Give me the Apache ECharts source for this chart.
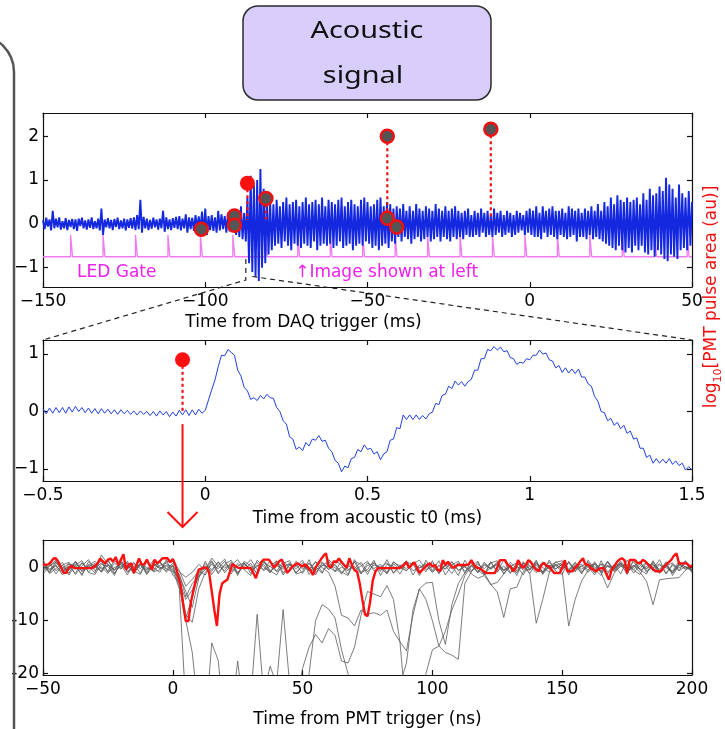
<!DOCTYPE html>
<html><head><meta charset="utf-8">
<script src="https://cdn.jsdelivr.net/npm/echarts@6/dist/echarts.min.js"></script>
<style>html,body{margin:0;padding:0;background:#fff;}#c{width:725px;height:729px;}</style>
</head><body><div id="c"></div>
<script>
// ---------------- DATA ----------------
// Top panel: acoustic signal vs time from DAQ trigger (ms), sampled every 0.5 ms from -150
const daqStart = -150, daqStep = 0.5;
const acousticLong = [
0.08,-0.12,0.14,-0.06,0.1,-0.15,0.3,-0.1,0.12,-0.08,0.15,-0.13,0.06,-0.1,0.13,-0.14,0.09,-0.07,0.11,-0.12,
0.1,-0.16,0.12,-0.05,0.14,-0.1,0.08,-0.13,0.1,-0.09,0.15,-0.12,0.06,-0.1,0.12,-0.15,0.35,-0.25,0.1,-0.08,
0.13,-0.1,0.09,-0.14,0.11,-0.07,0.14,-0.12,0.08,-0.1,0.12,-0.15,0.1,-0.09,0.13,-0.11,0.15,-0.14,0.2,-0.12,
0.55,-0.2,0.16,-0.1,0.12,-0.14,0.09,-0.11,0.14,-0.08,0.1,-0.13,0.12,-0.1,0.3,-0.18,0.15,-0.12,0.1,-0.14,
0.13,-0.09,0.16,-0.12,0.18,-0.15,0.12,-0.1,0.22,-0.2,0.15,-0.12,0.14,-0.16,0.2,-0.1,0.17,-0.13,0.28,-0.22,
0.35,-0.25,0.18,-0.14,0.2,-0.16,0.15,-0.2,0.3,-0.15,0.22,-0.12,0.18,-0.2,0.25,-0.17,0.2,-0.15,0.3,-0.25,
0.3,-0.3,0.4,-0.35,0.25,-0.4,0.6,-0.9,1.1,-1.1,0.9,-1.2,1.0,-1.3,1.25,-1.0,0.8,-0.9,0.6,-0.7,
0.5,-0.6,0.45,-0.5,0.55,-0.45,0.4,-0.55,0.5,-0.4,0.6,-0.5,0.45,-0.6,0.5,-0.45,0.55,-0.5,0.4,-0.55,
0.5,-0.45,0.6,-0.5,0.45,-0.55,0.5,-0.4,0.55,-0.6,0.45,-0.5,0.6,-0.45,0.4,-0.5,0.55,-0.45,0.5,-0.55,
0.45,-0.5,0.55,-0.4,0.6,-0.55,0.4,-0.5,0.5,-0.45,0.55,-0.6,0.45,-0.5,0.4,-0.45,0.55,-0.5,0.6,-0.4,
0.5,-0.45,0.4,-0.55,0.45,-0.5,0.55,-0.6,0.6,-0.5,0.4,-0.45,0.5,-0.55,0.45,-0.4,0.35,-0.45,0.4,-0.3,
0.35,-0.4,0.45,-0.3,0.3,-0.35,0.4,-0.45,0.3,-0.35,0.45,-0.3,0.35,-0.4,0.3,-0.35,0.4,-0.3,0.35,-0.4,
0.3,-0.35,0.45,-0.3,0.35,-0.4,0.3,-0.3,0.4,-0.35,0.3,-0.4,0.35,-0.3,0.4,-0.35,0.3,-0.3,0.25,-0.35,
0.3,-0.25,0.35,-0.3,0.2,-0.3,0.3,-0.25,0.25,-0.3,0.35,-0.2,0.25,-0.3,0.3,-0.25,0.2,-0.3,0.35,-0.25,
0.25,-0.2,0.3,-0.3,0.2,-0.25,0.3,-0.2,0.25,-0.3,0.2,-0.25,0.3,-0.2,0.25,-0.15,0.2,-0.25,0.3,-0.2,
0.35,-0.25,0.3,-0.3,0.4,-0.3,0.25,-0.35,0.4,-0.2,0.3,-0.3,0.35,-0.25,0.4,-0.3,0.3,-0.35,0.3,-0.25,
0.35,-0.3,0.25,-0.35,0.4,-0.3,0.35,-0.25,0.3,-0.4,0.35,-0.3,0.25,-0.3,0.35,-0.35,0.3,-0.25,0.4,-0.35,
0.3,-0.3,0.45,-0.35,0.3,-0.4,0.5,-0.45,0.4,-0.5,0.6,-0.55,0.45,-0.6,0.65,-0.5,0.55,-0.6,0.5,-0.65,
0.6,-0.55,0.5,-0.65,0.55,-0.5,0.6,-0.6,0.45,-0.5,0.7,-0.65,0.55,-0.7,0.8,-0.6,0.65,-0.75,0.7,-0.6,
0.85,-0.7,0.75,-0.8,1.05,-0.85,0.9,-0.7,0.8,-0.75,0.6,-0.8,0.9,-0.6,0.7,-0.55,0.6,-0.6,0.75,-0.5,
0.5];

// LED gate pulses (ms), level and width
const ledPulseStarts = [-141.5,-131.5,-121.5,-111.5,-101.5,-91.5,-81.5,-71.5,-61.5,-51.5,-41.5,-31.5,-21.5,-11.5,-1.5,8.5,18.5,28.5,38.5,48.5];
const ledLow = -0.75, ledHigh = -0.25, ledWidth = 0.6;

// PMT pulse markers (log10 pulse area), grey events and the highlighted event
const pmtEventT = [-101.2,-91.0,-91.0,-81.3,-43.9,-43.9,-41.0,-12.0];
const pmtEventA = [-0.12,0.18,-0.03,0.58,2.0,0.13,-0.07,2.16];
const pmtStemBase = [null,null,null,0.09,0.13,null,null,0.09];
const highlightT = -87.0, highlightA = 0.93, highlightBase = 0.09;
const zoomWindow = [-87.5, -85.5];

// Middle panel: acoustic signal vs time from acoustic t0 (ms), every 0.01 ms from -0.5
const t0Start = -0.5, t0Step = 0.01;
const acousticZoom = [
0.05,-0.04,0.06,-0.03,0.07,-0.02,0.07,-0.03,0.08,-0.01,
0.09,0.0,0.07,-0.02,0.06,-0.03,0.05,-0.04,0.05,-0.03,
0.04,-0.04,0.03,-0.05,0.03,-0.04,0.02,-0.05,0.01,-0.06,
0.01,-0.05,0.0,-0.07,0.0,-0.08,0.01,-0.06,0.0,-0.09,
-0.01,-0.08,0.02,-0.06,0.03,-0.07,0.03,-0.06,0.04,-0.03,
0.02,0.2,0.38,0.55,0.78,0.98,0.97,1.08,1.03,0.98,
0.72,0.62,0.42,0.36,0.21,0.24,0.19,0.28,0.22,0.30,
0.24,0.23,0.07,0.0,-0.16,-0.22,-0.44,-0.48,-0.66,-0.62,
-0.68,-0.54,-0.6,-0.48,-0.5,-0.42,-0.52,-0.5,-0.64,-0.7,
-0.85,-0.9,-1.05,-0.95,-0.98,-0.82,-0.8,-0.66,-0.7,-0.58,
-0.66,-0.64,-0.74,-0.7,-0.84,-0.74,-0.7,-0.5,-0.48,-0.28,
-0.3,-0.06,-0.14,-0.06,-0.14,-0.06,-0.14,-0.07,-0.13,-0.04,
-0.01,0.14,0.12,0.28,0.3,0.44,0.4,0.53,0.46,0.52,
0.44,0.52,0.56,0.72,0.72,0.92,0.92,1.08,1.06,1.13,
1.07,1.12,1.04,1.06,0.94,0.92,0.82,0.86,0.84,0.92,
0.9,0.98,0.98,1.07,1.0,1.02,0.9,0.88,0.76,0.8,
0.68,0.76,0.67,0.74,0.66,0.74,0.6,0.6,0.48,0.44,
0.26,0.18,0.0,-0.02,-0.16,-0.12,-0.24,-0.19,-0.3,-0.24,
-0.38,-0.34,-0.48,-0.46,-0.64,-0.64,-0.8,-0.76,-0.9,-0.82,
-0.9,-0.83,-0.9,-0.82,-0.92,-0.86,-0.94,-0.9,-1.02,-0.96,
-1.02];
const t0Marker = [-0.07, 0.9];

// Bottom panel: PMT waveforms vs time from PMT trigger (ns)
const pmtStart = -50, greyStep = 2.5, redStep = 1;
const grey1 = [
0.6,-0.9,1.2,-0.2,0.8,-1.3,0.3,1.5,-0.6,0.1,-1.1,0.9,-0.3,1.2,-0.8,0.4,-0.5,1.4,0.1,-0.6,
0.5,-3.0,-9.6,-5.5,-1.2,0.7,-0.4,1.1,-1.0,0.5,1.5,-0.3,0.8,-1.3,1.0,0.2,-0.7,1.2,-0.1,0.6,
-1.1,0.9,-0.5,0.3,1.3,-0.8,0.1,-0.6,1.0,-1.2,0.4,0.8,-0.2,-1.0,1.1,0.0,-0.6,0.7,1.4,-0.4,
0.2,-1.0,0.5,-0.2,0.9,-0.7,0.3,1.2,-1.3,0.1,0.6,-0.5,1.0,-0.1,0.4,-1.1,0.8,0.0,-0.8,1.1,
0.3,-0.6,0.9,-0.3,0.5,-1.0,0.7,0.2,-0.4,1.2,-0.1,0.4,-0.9,-2.6,-7.0,-2.3,-2.1,-2.0,-1.9,-0.5,0.4];
const grey2 = [
-0.4,0.7,-1.2,0.5,1.0,-0.3,0.9,-0.8,0.2,1.3,-0.9,0.0,0.6,-1.4,0.8,-0.2,1.1,-0.7,0.4,0.9,
-0.3,-2.2,-8.8,-10.3,-4.0,-0.9,0.6,-0.2,1.2,-0.7,0.3,0.9,-1.1,0.5,-0.4,1.3,-0.8,0.2,0.7,-1.0,
0.4,-0.3,1.1,-0.9,0.6,0.0,-1.2,0.8,-0.5,0.3,1.2,-0.6,0.1,0.9,-1.0,0.5,-0.2,1.0,-0.7,0.2,
0.9,-0.4,0.3,-1.1,0.6,0.1,-0.8,1.0,-1.0,-3.2,-4.6,-9.4,-4.0,-3.7,-0.8,-0.3,0.9,-1.0,0.2,0.6,
-0.5,1.0,-0.2,0.3,-0.9,0.7,-1.0,-3.8,-1.1,0.4,0.5,-0.4,0.8,-0.2,0.6,-1.1,0.3,0.9,-0.6,0.2,-0.3];
const grey3 = [
1.0,-0.5,0.3,-1.0,0.7,0.2,-1.3,0.6,-0.1,0.9,-0.7,1.4,-0.2,0.5,-1.0,0.8,0.0,-0.6,1.1,-0.3,
0.8,-0.8,-1.8,-0.9,0.6,-0.4,1.3,-0.9,0.4,0.0,-1.2,0.7,-0.3,1.0,-0.6,0.3,1.2,-1.0,0.5,-0.2,
0.9,-0.7,0.2,1.1,-0.4,0.6,-1.1,0.3,-0.2,1.0,-0.8,0.5,0.1,-1.2,0.7,-0.3,1.2,-0.6,0.0,0.8,
-0.9,0.4,-0.3,1.1,-0.6,0.2,0.8,-1.0,0.5,-0.2,1.0,-0.5,0.3,-0.9,0.6,-1.2,-10.5,-6.0,-1.0,0.4,
-0.8,-11.0,-6.0,-2.5,-0.5,0.8,-0.3,1.0,-0.7,0.2,0.6,-1.0,0.4,-0.2,1.1,-0.6,0.3,-0.9,0.7,0.1,-0.4];
const grey4 = [
-0.2,0.9,-0.6,0.4,-1.1,1.2,-0.3,0.1,0.8,-0.9,0.5,-0.4,1.0,-0.7,0.2,1.3,-1.2,0.6,-0.1,0.3,
-0.5,-4.0,-26,-32,-34,-30,-14.2,-17.5,-30,-28,-17.6,-28,-25,-8.8,-24,-18.6,-22,-7.9,-22,-30,
-28,-20,-10,-7.0,-7.8,-9.5,-15.5,-20,-26,-30,-32,-30,-28,-30,-26,-22,-18,-8.0,-4.0,-2.9,
-2.8,-10,-14.5,-7.0,-3.0,-1.0,0.5,-0.8,1.0,-0.3,0.6,-1.1,0.2,0.9,-0.5,0.3,-1.0,0.7,-0.2,0.4,
0.9,-0.4,0.2,-1.0,0.6,0.1,-0.7,1.2,-0.3,0.5,-0.9,0.3,1.0,-0.6,0.0,0.7,-1.2,0.4,-0.1,0.8,-0.5];
const grey5 = [
0.3,-1.0,0.8,0.0,-0.5,1.1,-0.8,0.4,1.2,-0.3,0.6,-1.2,0.9,0.1,-0.4,0.7,-0.9,1.0,-0.2,0.5,
0.2,-3.5,-10.0,-16,-28,-32,-30,-33,-31,-34,-30,-32,-33,-29,-31,-32,-30,-33,-31,-26,
-19,-15,-12.6,-14.2,-11.5,-12.8,-17.6,-18,-15,-9,-4.5,-5,-5.5,-3.4,-6.0,-14,-28,-30,-26,-20,
-15.5,-14.8,-16,-16.5,-17.3,-3.0,-0.8,0.6,-0.2,1.0,-0.7,0.3,-1.1,0.8,0.1,-0.5,1.2,-0.9,0.4,-0.2,
0.6,-0.3,1.0,-0.8,0.2,0.7,-1.0,0.4,-0.1,0.9,-0.6,0.3,-0.2,1.1,-0.7,0.5,0.0,-0.9,0.8,-0.4,0.3];
const grey6 = [
-0.7,0.4,1.0,-0.6,0.2,-1.1,0.9,-0.2,0.5,-0.8,1.3,-0.4,0.1,0.8,-1.2,0.6,-0.3,0.2,1.1,-0.9,
0.4,-1.5,-4.5,-7.5,-2.0,0.3,-0.7,1.0,-0.1,0.6,-1.1,0.9,-0.5,0.2,1.2,-0.8,0.4,-0.3,0.9,-1.0,
0.5,-0.6,1.1,0.0,-0.9,-3.5,-9.0,-9.5,-11,-8.0,-8.8,-8.5,-9.0,-8.0,-12,-14,-15.7,-9.0,-4.0,-6.0,
-10,-14.8,-12,-8.0,-5.0,-1.5,0.3,-0.9,0.7,-0.2,1.0,-0.6,0.2,-1.0,0.8,0.4,-0.5,1.1,-0.3,0.6,
-0.2,0.9,-0.6,0.3,1.0,-0.4,0.7,-1.2,0.5,0.6,-0.3,1.1,-0.5,0.2,0.8,-1.0,0.4,-0.7,1.2,0.0,-0.6];
const grey7 = [
0.9,-0.3,0.5,-1.4,0.2,1.0,-0.6,0.3,-1.0,2.4,0.6,-0.5,1.1,-0.9,0.0,0.7,-1.3,0.4,1.0,-0.2,
-0.8,-1.2,-5.5,-3.0,-1.6,-0.4,1.8,0.3,-0.6,1.0,-0.9,0.2,1.5,-0.4,0.6,-1.0,0.9,0.1,-0.7,1.2,
-0.3,0.8,-1.0,0.5,0.1,-0.7,1.3,-0.4,0.2,-1.1,0.9,-0.2,0.6,-0.9,1.0,0.3,-0.6,0.8,-0.1,0.5,
-0.9,0.4,-0.2,1.1,-0.5,0.3,-1.2,-2.0,-1.5,-3.2,-2.8,-1.2,0.4,-0.6,0.9,-0.2,0.5,-0.8,1.0,-0.3,
0.7,-1.0,0.2,0.6,-0.5,1.1,-0.8,0.3,-0.2,0.9,-0.6,0.0,1.2,-0.9,0.4,-0.3,0.8,-1.1,0.5,-0.2,0.6];
const grey8 = [
-1.2,0.3,1.4,-0.8,-0.1,0.6,-1.5,1.1,0.2,-0.7,1.6,-1.0,0.4,0.9,-0.6,-1.3,1.2,0.0,-0.9,1.5,
-1.4,-2.8,-6.0,-4.2,-1.8,1.2,-1.3,0.4,1.6,-1.2,0.8,-0.4,-1.5,1.4,0.1,-0.9,1.3,-1.4,0.6,0.2,
1.4,-1.3,0.2,-1.1,1.5,0.4,-0.8,-1.5,1.2,0.6,-1.3,1.0,-0.7,1.5,-1.1,0.2,1.3,-1.4,0.5,-0.8,
1.3,-1.2,0.8,0.3,-1.5,1.4,-0.6,0.2,-1.3,1.1,-0.9,1.5,-1.0,0.4,-1.4,1.2,0.0,-1.1,1.4,-0.7,
-1.3,1.2,-0.8,1.5,0.1,-1.4,1.3,-0.9,0.6,-1.2,1.4,-0.5,-1.3,1.1,-0.2,1.5,-1.1,0.7,-0.6,1.3,-0.8];
const grey9 = [
1.5,-1.1,-0.2,1.0,-1.4,0.5,1.3,-0.9,-1.3,0.7,0.2,-1.5,1.4,-0.3,1.0,-1.1,1.6,-0.8,-0.4,1.1,
1.3,-0.5,-3.5,-2.2,-0.6,-1.4,1.1,-1.2,0.6,1.4,-1.5,1.2,0.3,-1.1,1.5,-0.6,-1.4,0.8,1.3,-1.2,
-0.8,1.5,-1.4,0.9,-0.3,1.3,0.5,-1.3,1.5,-0.9,-0.4,1.4,-1.5,0.6,0.3,-1.2,1.0,0.7,-1.5,1.4,
-0.6,1.3,-1.4,0.5,1.2,-1.1,1.4,-0.5,-1.4,0.9,1.3,-1.2,0.6,-1.5,1.1,-0.4,1.4,-1.3,0.3,1.0,
1.3,-1.4,0.6,-1.2,1.4,-0.3,-1.5,1.2,-0.7,0.9,-1.3,1.5,-0.4,-1.2,1.3,-0.8,1.1,-1.5,0.4,1.2,-1.0];
const greyTraces = [grey1, grey2, grey3, grey4, grey5, grey6, grey7, grey8, grey9];
const redTrace = [
0.6,0.5,0.6,1.0,1.7,1.75,1.0,0.0,-1.0,-1.0,0.0,0.3,-0.1,-0.1,-0.1,-0.1,-0.1,-0.1,-0.1,-0.1,0.3,0.8,1.7,1.2,0.8,
1.5,1.7,1.1,2.0,0.5,1.5,2.5,-0.4,0.5,0.8,-1.0,0.5,1.7,0.6,0.6,1.5,0.5,-0.4,1.5,0.8,1.2,1.75,1.75,1.75,1.0,
1.6,0.5,-1.5,-3.2,-7.0,-10.1,-10.1,-6.5,-4.2,-2.0,-0.4,-0.2,0.0,0.0,-1.0,-4.5,-8.0,-11.0,-5.0,-3.0,-2.6,-2.3,-0.8,0.7,0.3,
0.0,-0.1,0.0,-0.1,0.0,-0.1,-1.0,-2.0,-0.5,1.0,1.5,1.5,1.5,0.8,0.0,0.5,1.2,1.5,0.3,-1.0,-0.5,0.2,0.5,0.8,0.5,
0.2,0.6,0.1,-0.5,-1.4,0.0,0.8,1.5,2.2,2.7,0.3,0.0,1.2,1.0,1.75,1.0,0.5,-0.1,1.75,0.5,-0.5,-0.8,-3.0,-6.0,-8.8,
-9.2,-6.5,-2.5,-0.8,-0.1,-0.1,-0.1,-0.1,-0.1,-0.1,-0.1,-0.1,-0.1,0.1,0.5,1.0,-0.1,0.5,1.0,0.0,-1.0,-0.5,0.0,0.5,0.8,
0.2,0.5,-0.4,-0.7,1.4,0.5,1.1,0.5,-0.1,0.3,0.5,0.5,0.5,0.5,0.6,1.4,0.5,0.0,-0.1,-0.4,-0.8,-1.05,-1.05,-1.05,-1.05,
0.0,1.4,1.4,1.4,0.5,0.2,-0.7,-0.2,1.4,0.5,-0.1,0.5,1.4,1.0,0.2,-0.4,-0.7,0.5,0.9,0.3,0.2,-0.5,-1.05,-1.05,-1.05,
0.0,1.4,-0.7,-0.7,-0.7,0.0,0.5,1.2,1.75,0.5,0.6,-0.1,-0.4,-0.7,-0.3,-0.1,-0.1,-1.2,-2.3,-0.5,0.2,1.0,1.5,1.75,1.4,
-1.05,1.44,1.44,1.44,0.9,0.8,1.44,1.2,0.6,0.2,-0.3,-0.7,-0.7,-0.7,0.0,0.5,1.0,1.44,2.2,2.7,0.8,0.8,0.8,0.8,0.3,
0.2];

// Axis ranges and tick labels
const topX = {min:-150, max:50, ticks:[-150,-100,-50,0,50]};
const topY = {min:-1.44, max:2.53, ticks:[-1,0,1,2]};
const midX = {min:-0.5, max:1.5, ticks:[-0.5,0,0.5,1,1.5]};
const midY = {min:-1.21, max:1.245, ticks:[-1,0,1]};
const botX = {min:-50, max:200, ticks:[-50,0,50,100,150,200]};
const botY = {min:-20.25, max:5.2, ticks:[-20,-10,0]};
const titles = {
  top:'Time from DAQ trigger (ms)', mid:'Time from acoustic t0 (ms)', bot:'Time from PMT trigger (ns)',
  box:['Acoustic','signal'], led:'LED Gate', image:'\u2191Image shown at left'
};

// ---------------- CHART ----------------
const FONT = 'DejaVu Sans';
const AX = '#111';
const pairs = (arr, t0, dt) => arr.map((v, i) => [t0 + i * dt, v]);
const minusFmt = v => (v < 0 ? '\u2212' + Math.abs(v) : String(v));
const hyphenFmt = v => String(v);

function axisPair(kind, g, rng, fmt, extra) {
  const common = {
    type:'value', gridIndex:g, min:rng.min, max:rng.max, splitLine:{show:false},
    axisLine:{show:true, onZero:false, lineStyle:{color:AX, width:1.2}},
    axisTick:{show:true, inside:true, length:5, customValues:rng.ticks, lineStyle:{color:AX, width:1.2}}
  };
  const main = Object.assign({}, common, {
    position: kind === 'x' ? 'bottom' : 'left',
    axisLabel:{show:true, customValues:rng.ticks, formatter:fmt, margin: kind === 'x' ? 6 : 4,
               color:'#000', fontSize:17, fontFamily:FONT}
  }, extra || {});
  const mirror = Object.assign({}, common, {
    position: kind === 'x' ? 'top' : 'right', axisLabel:{show:false}
  });
  return [main, mirror];
}
const nameStyle = pad => ({color:'#000', fontSize:17, fontFamily:FONT, padding:pad});

const xAxes = [].concat(
  axisPair('x', 0, topX, minusFmt, {name:titles.top, nameLocation:'middle', nameGap:27, nameMoveOverlap:false, nameTextStyle:nameStyle([0,128,0,0])}),
  axisPair('x', 1, midX, minusFmt, {name:titles.mid, nameLocation:'middle', nameGap:29, nameMoveOverlap:false, nameTextStyle:nameStyle([0,0,0,0])}),
  axisPair('x', 2, botX, minusFmt, {name:titles.bot, nameLocation:'middle', nameGap:36, nameMoveOverlap:false, nameTextStyle:nameStyle([0,0,0,0])})
);
const yAxes = [].concat(
  axisPair('y', 0, topY, minusFmt),
  axisPair('y', 1, midY, minusFmt),
  axisPair('y', 2, botY, hyphenFmt)
);

// LED gate polyline built from pulse list
const ledData = [[topX.min, ledLow]];
ledPulseStarts.forEach(s => { ledData.push([s, ledLow],[s, ledHigh],[s + ledWidth, ledHigh],[s + ledWidth, ledLow]); });
ledData.push([topX.max, ledLow]);

const RED = '#ee1111';
const series = [];
series.push({type:'line', xAxisIndex:0, yAxisIndex:0, data:ledData, symbol:'none', lineStyle:{color:'#f07af0', width:1.3}, z:2, silent:true});
series.push({type:'line', xAxisIndex:0, yAxisIndex:0, data:pairs(acousticLong, daqStart, daqStep), symbol:'none', lineStyle:{color:'#1428e0', width:1.9}, z:3, silent:true});
pmtEventT.forEach((t, i) => {
  if (pmtStemBase[i] === null) return;
  series.push({type:'line', xAxisIndex:0, yAxisIndex:0, data:[[t, pmtEventA[i]],[t, pmtStemBase[i]]], symbol:'none',
    lineStyle:{color:RED, width:2.2, type:[3,3]}, z:4, silent:true});
});
series.push({type:'line', xAxisIndex:0, yAxisIndex:0, data:[[highlightT, highlightA],[highlightT, highlightBase]], symbol:'none',
  lineStyle:{color:RED, width:2.2, type:[3,3]}, z:4, silent:true});
series.push({type:'scatter', xAxisIndex:0, yAxisIndex:0, data:pmtEventT.map((t,i)=>[t, pmtEventA[i]]), symbolSize:13,
  itemStyle:{color:'#555555', borderColor:RED, borderWidth:2.5, opacity:1}, z:5, silent:true});
series.push({type:'scatter', xAxisIndex:0, yAxisIndex:0, data:[[highlightT, highlightA]], symbolSize:15,
  itemStyle:{color:'#ff1010', opacity:1}, z:6, silent:true});
// middle panel
series.push({type:'line', xAxisIndex:2, yAxisIndex:2, data:pairs(acousticZoom, t0Start, t0Step), symbol:'none', lineStyle:{color:'#2040dd', width:1}, z:3, silent:true});
series.push({type:'line', xAxisIndex:2, yAxisIndex:2, data:[[t0Marker[0], t0Marker[1]],[t0Marker[0], 0]], symbol:'none',
  lineStyle:{color:RED, width:2.2, type:[3,3]}, z:4, silent:true});
series.push({type:'scatter', xAxisIndex:2, yAxisIndex:2, data:[t0Marker], symbolSize:15, itemStyle:{color:'#ff1010', opacity:1}, z:5, silent:true});
// bottom panel
greyTraces.forEach(tr => {
  series.push({type:'line', xAxisIndex:4, yAxisIndex:4, data:pairs(tr, pmtStart, greyStep), symbol:'none',
    lineStyle:{color:'#5c5c5c', width:0.8}, z:3, silent:true, clip:true});
});
series.push({type:'line', xAxisIndex:4, yAxisIndex:4, data:pairs(redTrace, pmtStart, redStep), symbol:'none',
  lineStyle:{color:'#ff1010', width:2.4}, z:5, silent:true, clip:true});

const option = {
  animation:false,
  backgroundColor:'#ffffff',
  grid:[
    {left:43, top:113, width:649, height:174, containLabel:false, outerBoundsMode:'none'},
    {left:43, top:340, width:649, height:141, containLabel:false, outerBoundsMode:'none'},
    {left:43, top:540, width:649, height:135, containLabel:false, outerBoundsMode:'none'}
  ],
  xAxis:xAxes, yAxis:yAxes, series
};

const chart = echarts.init(document.getElementById('c'));
chart.setOption(option);

// ---------------- ANNOTATIONS ----------------
const px = (g, pt) => chart.convertToPixel({xAxisIndex:2*g, yAxisIndex:2*g}, pt);
const zL1 = px(0, [zoomWindow[0], -0.8]);
const zL2 = px(0, [zoomWindow[0], -1.28]);
const zR = px(0, [zoomWindow[1], -1.2]);
const mL = px(1, [midX.min, midY.max]);
const mR = px(1, [midX.max, midY.max]);
const arrowTop = px(1, [t0Marker[0], -0.22]);
const botTop = px(2, [botX.min, botY.max]);
const arrowEnd = [arrowTop[0], botTop[1] - 13];
const ledPos = px(0, [-139.5, -1.1]);
const imgPos = px(0, [-72.3, -1.1]);
const dash = {stroke:'#222', lineWidth:1.2, lineDash:[5,4]};
const rightMid = (px(0, [topX.max, topY.max])[1] + px(1, [midX.max, midY.min])[1]) / 2;

const graphics = [
  {type:'arc', shape:{cx:-23, cy:72, r:37, startAngle:-Math.PI/2, endAngle:0, clockwise:true}, style:{fill:null, stroke:'#555', lineWidth:2.5}, z:100},
  {type:'line', shape:{x1:14, y1:72, x2:14, y2:740}, style:{stroke:'#555', lineWidth:2.5}, z:100},
  {type:'rect', shape:{x:243, y:6, width:248, height:94, r:15}, style:{fill:'#d8cdfb', stroke:'#2a2a2a', lineWidth:1.5}, z:100},
  {type:'text', x:367, y:31, scaleX:1.2, style:{text:titles.box[0], font:'24px "Noto Sans"', fill:'#111', textAlign:'center', textVerticalAlign:'middle'}, z:101},
  {type:'text', x:363, y:76, scaleX:1.2, style:{text:titles.box[1], font:'24px "Noto Sans"', fill:'#111', textAlign:'center', textVerticalAlign:'middle'}, z:101},
  {type:'polyline', shape:{points:[zL1, zL2, mL]}, style:Object.assign({fill:null}, dash), z:50},
  {type:'line', shape:{x1:zR[0], y1:zR[1], x2:mR[0], y2:mR[1]}, style:dash, z:50},
  {type:'text', x:ledPos[0], y:ledPos[1], style:{text:titles.led, font:'17px "DejaVu Sans"', fill:'#ee22ee', textAlign:'left', textVerticalAlign:'middle'}, z:60},
  {type:'text', x:imgPos[0], y:imgPos[1], style:{text:titles.image, font:'17px "DejaVu Sans"', fill:'#ee22ee', textAlign:'left', textVerticalAlign:'middle'}, z:60},
  {type:'line', shape:{x1:arrowTop[0], y1:arrowTop[1], x2:arrowEnd[0], y2:arrowEnd[1]}, style:{stroke:'#ff1010', lineWidth:2}, z:60},
  {type:'polyline', shape:{points:[[arrowEnd[0]-15, arrowEnd[1]-15], arrowEnd, [arrowEnd[0]+15, arrowEnd[1]-15]]}, style:{fill:null, stroke:'#ff1010', lineWidth:2}, z:60},
  {type:'text', x:712, y:rightMid, rotation:Math.PI/2,
   style:{text:'{a|log}{s|10}{a|[PMT pulse area (au)]}', textAlign:'center', textVerticalAlign:'middle',
     rich:{a:{fontSize:17, fontFamily:FONT, fill:'#ee1111', lineHeight:24, verticalAlign:'middle'},
           s:{fontSize:11, fontFamily:FONT, fill:'#ee1111', lineHeight:12, verticalAlign:'bottom'}}}, z:60}
];
chart.setOption({graphic:graphics});
</script></body></html>
